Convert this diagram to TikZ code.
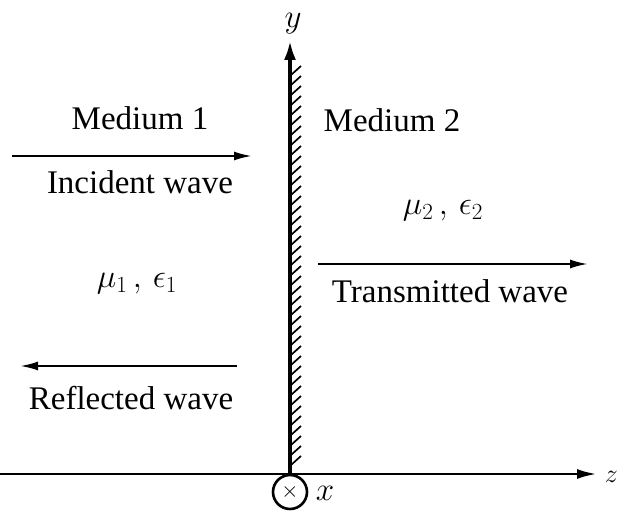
\RequirePackage{fix-cm}
\documentclass[tikz,border=0pt]{standalone}
\usepackage{fontspec}
\setmainfont{Liberation Serif}
\usetikzlibrary{arrows.meta}
\begin{document}
\begin{tikzpicture}[x=1pt,y=-1pt,
  lbl/.style={font=\fontsize{33}{38}\selectfont, inner sep=0pt, anchor=base},
  wave/.style={line width=2.2pt, -{Latex[length=18pt,width=9pt]}},
  axis/.style={line width=2.8pt, -{Latex[length=20pt,width=10pt]}}]
\useasboundingbox (0,0) rectangle (619,513);
\coordinate (O) at (290,474);
\coordinate (ytip) at (290,40);
\coordinate (zstart) at (0,474);
\coordinate (ztip) at (597,474);
% hatching
\foreach \yy in {66,76,...,464}
  \draw[line width=1.7pt] (291,\yy+9) -- (301,\yy);
\draw[line width=4.5pt, -{Latex[length=20pt,width=12pt]}] (O) -- (ytip);
\draw[axis] (zstart) -- (ztip);
\node[lbl] (ylab) at (293,28) {$y$};
\node[lbl, anchor=base east, font=\fontsize{26}{30}\selectfont] (zlab) at (618,482) {$z$};
\node[circle, draw, line width=2.6pt, minimum size=34pt, inner sep=0pt] (xcirc) at (290,492) {\fontsize{22}{24}\selectfont$\times$};
\node[lbl] (xlab) at (325,500) {$x$};
% medium 1
\node[lbl] (m1) at (140,130) {Medium 1};
\coordinate (i1) at (12,156);
\coordinate (i2) at (252,156);
\draw[wave] (i1) -- (i2);
\node[lbl] (inc) at (140,194) {Incident wave};
\node[lbl] (mu1) at (137,288) {$\mu_1\,,\,\epsilon_1$};
\coordinate (r1) at (237,366);
\coordinate (r2) at (20,366);
\draw[wave] (r1) -- (r2);
\node[lbl] (refl) at (131,409) {Reflected wave};
% medium 2
\node[lbl] (m2) at (392,132) {Medium 2};
\node[lbl] (mu2) at (443,215) {$\mu_2\,,\,\epsilon_2$};
\coordinate (t1) at (318,264);
\coordinate (t2) at (588,264);
\draw[wave] (t1) -- (t2);
\node[lbl] (trans) at (450,303) {Transmitted wave};
\end{tikzpicture}
\end{document}
